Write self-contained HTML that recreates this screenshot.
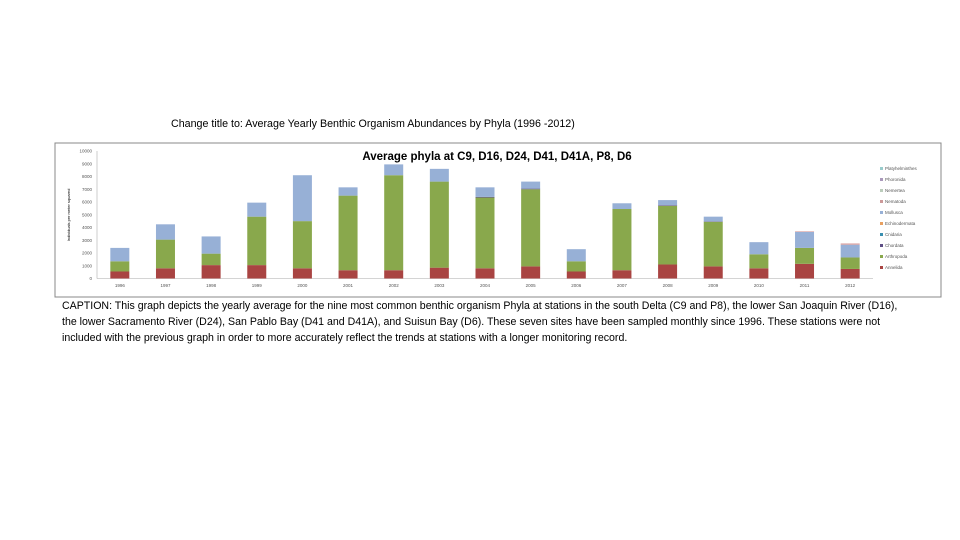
<!DOCTYPE html>
<html><head><meta charset="utf-8"><style>
body{margin:0;width:960px;height:540px;background:#fff;overflow:hidden;font-family:"Liberation Sans",sans-serif;position:relative}
.t{position:absolute;color:#000}
.cap div{white-space:nowrap}
</style></head><body>
<div class="t" style="left:171px;top:118px;font-size:10.7px">Change title to: Average Yearly Benthic Organism Abundances by Phyla (1996 -2012)</div>
<svg width="960" height="300" style="position:absolute;left:0;top:0" id="svg">
<rect x="55" y="143" width="886" height="154" fill="#fff" stroke="#888" stroke-width="1"/>
<text x="497" y="160" font-size="11.5" font-weight="bold" text-anchor="middle" font-family="Liberation Sans">Average phyla at C9, D16, D24, D41, D41A, P8, D6</text>
<text transform="translate(70,215) rotate(-90)" font-size="4" text-anchor="middle" font-family="Liberation Sans">Individuals per meter squared</text>
<g id="g"></g>
</svg>
<div class="t cap" style="left:62px;top:298px;font-size:10.6px;line-height:16px">
<div>CAPTION: This graph depicts the yearly average for the nine most common benthic organism Phyla at stations in the south Delta (C9 and P8), the lower San Joaquin River (D16),</div>
<div>the lower Sacramento River (D24), San Pablo Bay (D41 and D41A), and Suisun Bay (D6). These seven sites have been sampled monthly since 1996. These stations were not</div>
<div>included with the previous graph in order to more accurately reflect the trends at stations with a longer monitoring record.</div>
</div>
<script>
const years=["1996","1997","1998","1999","2000","2001","2002","2003","2004","2005","2006","2007","2008","2009","2010","2011","2012"];
const annelida=[550,800,1050,1050,800,650,650,850,800,950,550,650,1100,950,800,1150,750];
const arthropoda=[800,2250,900,3800,3700,5850,7450,6750,5550,6050,800,4800,4600,3500,1100,1250,900];
const chordata=[0,0,0,0,0,0,0,0,50,50,0,0,50,30,0,0,0];
const mollusca=[1050,1200,1350,1100,3600,650,850,1000,750,550,950,450,400,370,950,1250,1000];
const nematoda=[0,0,0,0,0,0,0,0,0,0,0,0,0,0,0,50,100];
const yTicks=[0,1000,2000,3000,4000,5000,6000,7000,8000,9000,10000];
const legend=["Platyhelminthes","Phoronida","Nemertea","Nematoda","Mollusca","Echinodermata","Cnidaria","Chordata","Arthropoda","Annelida"];
const legendColors=["#9cc","#a9b","#bcb","#c99","#97b0d6","#e8a060","#3a8fb0","#5e4f85","#89a84c","#a94442"];
const NS="http://www.w3.org/2000/svg",g=document.getElementById('g');
const x0=97,x1=873,yb=278.5,yt=151;
const y=v=>yb-(v/10000)*(yb-yt);
const step=(x1-x0)/years.length;
const xc=i=>x0+step*(i+0.5);
function el(t,a){const e=document.createElementNS(NS,t);for(const k in a)e.setAttribute(k,a[k]);g.appendChild(e);return e;}
let ax=el('line',{x1:x0,x2:x0,y1:yt,y2:yb,stroke:'#aaa','stroke-width':0.6});


let bx=el('line',{x1:x0,x2:x1,y1:yb,y2:yb,stroke:'#aaa','stroke-width':0.6});


yTicks.forEach(v=>{const t=el('text',{x:x0-5,y:y(v)+1.5,'font-size':4.5,'text-anchor':'end',fill:'#555','font-family':'Liberation Sans'});t.textContent=v;

});
const series=[[annelida,"#a94442","annelida"],[arthropoda,"#89a84c","arthropoda"],[chordata,"#5e4f85","chordata"],[mollusca,"#97b0d6","mollusca"],[nematoda,"#d9a0a0","nematoda"]];
years.forEach((yr,i)=>{let base=0;series.forEach(([arr,c,n])=>{const v=arr[i];if(v>0){const r=el('rect',{x:xc(i)-9.5,y:y(base+v),width:19,height:y(base)-y(base+v),fill:c});

}base+=v;});
const t=el('text',{x:xc(i),y:287,'font-size':4.5,'text-anchor':'middle',fill:'#555','font-family':'Liberation Sans'});t.textContent=yr;

});
legend.forEach((n,i)=>{const yy=170+i*11;const r=el('rect',{x:880,y:yy-3,width:3,height:3,fill:legendColors[i]});


const t=el('text',{x:885,y:yy,'font-size':4.5,fill:'#555','font-family':'Liberation Sans'});t.textContent=n;

});
</script>
</body></html>
